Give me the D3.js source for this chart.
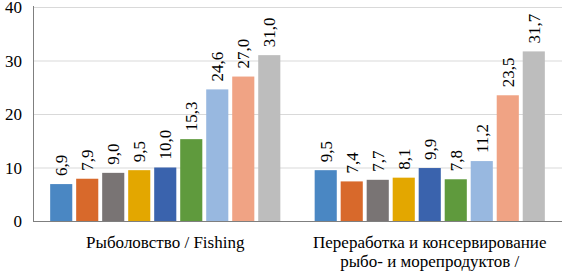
<!DOCTYPE html>
<html><head><meta charset="utf-8">
<script src="https://cdn.jsdelivr.net/npm/d3@7"></script>
<style>body{margin:0;background:#fff}svg{display:block}</style>
</head><body>
<svg id="c" width="562" height="273"></svg>
<script>
const categories = [["Рыболовство / Fishing"], ["Переработка и консервирование", "рыбо- и морепродуктов /"]];
const seriesIdx = [0,1,2,3,4,5,6,7,8];
const fishing = [6.9, 7.9, 9.0, 9.5, 10.0, 15.3, 24.6, 27.0, 31.0];
const processing = [9.5, 7.4, 7.7, 8.1, 9.9, 7.8, 11.2, 23.5, 31.7];
const yTicks = [0, 10, 20, 30, 40];
const colors = ["#4a87c3", "#d8692b", "#797474", "#e3a700", "#3a63ad", "#5f9a3d", "#98b8e0", "#f0a384", "#bdbdbd"];
const values = [fishing, processing];

const svg = d3.select("#c");
const font = "'Liberation Serif', 'Times New Roman', serif";
const y = d3.scaleLinear().domain([0, 40]).range([221, 7]);
const x0 = d3.scaleBand().domain([0, 1]).range([33, 562]);
const x1 = d3.scaleBand().domain(seriesIdx).range([0, x0.bandwidth()]).paddingInner(0.15).paddingOuter(0.66);

// gridlines
svg.append("g").selectAll("line").data(yTicks.filter(d => d > 0)).join("line")
  .attr("x1", 33).attr("x2", 562).attr("y1", d => y(d) + 0.5).attr("y2", d => y(d) + 0.5)
  .attr("stroke", "#d9d9d9").attr("stroke-width", 1);

// y axis labels
svg.append("g").selectAll("text").data(yTicks).join("text")
  .attr("x", 22).attr("y", d => y(d) + 6).attr("text-anchor", "end")
  .style("font-family", font, "important").style("font-size", "17px", "important")
  .attr("fill", "#000").text(d => d);

// bars
const groups = svg.append("g").selectAll("g").data(values).join("g")
  .attr("transform", (d, i) => `translate(${x0(i)},0)`);
groups.selectAll("rect").data(d => d).join("rect")
  .attr("x", (d, i) => x1(i)).attr("width", x1.bandwidth())
  .attr("y", d => y(d)).attr("height", d => y(0) - y(d))
  .attr("fill", (d, i) => colors[i]);
groups.selectAll("text").data(d => d).join("text")
  .attr("transform", (d, i) => `translate(${x1(i) + x1.bandwidth() / 2 + 6},${y(d) - 8}) rotate(-90)`)
  .attr("text-anchor", "start")
  .style("font-family", font, "important").style("font-size", "17px", "important")
  .attr("fill", "#000")
  .text(d => d.toFixed(1).replace(".", ","));

// axis lines
svg.append("line").attr("x1", 33.5).attr("x2", 33.5).attr("y1", 6).attr("y2", 221.5)
  .attr("stroke", "#7f7f7f").attr("stroke-width", 1);
svg.append("line").attr("x1", 33).attr("x2", 562).attr("y1", 221.5).attr("y2", 221.5)
  .attr("stroke", "#7f7f7f").attr("stroke-width", 1);

// category labels
categories.forEach((lines, i) => {
  lines.forEach((t, j) => {
    svg.append("text").attr("x", x0(i) + x0.bandwidth() / 2).attr("y", 248 + j * 19)
      .attr("text-anchor", "middle")
      .style("font-family", font, "important").style("font-size", "17px", "important")
      .attr("fill", "#000").text(t);
  });
});
</script>
</body></html>
